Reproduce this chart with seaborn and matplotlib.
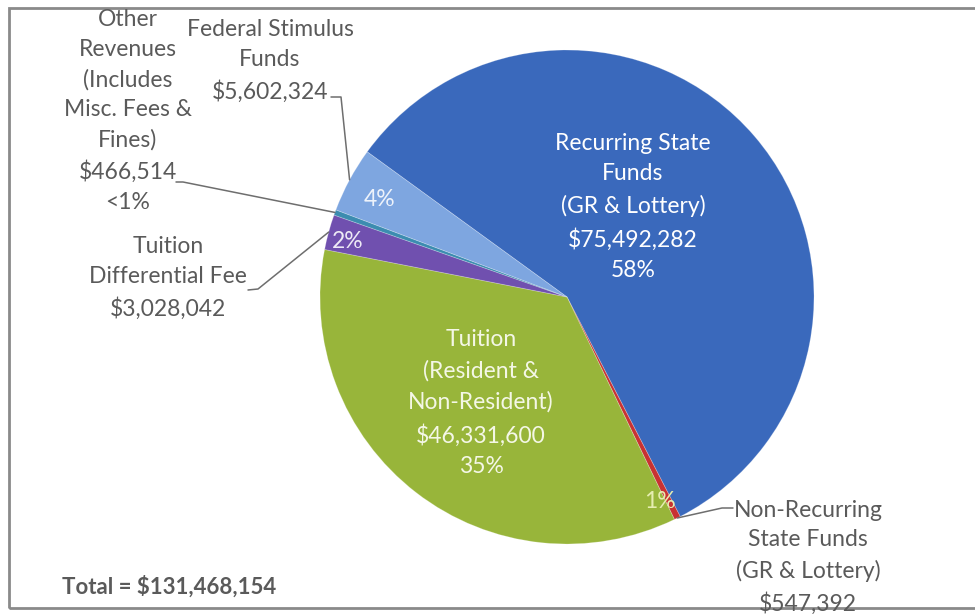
import numpy as np
import seaborn as sns
import matplotlib.pyplot as plt
from matplotlib.patches import Rectangle

# Revenue sources, in the order they are drawn (clockwise)
sources = ['Recurring State Funds (GR & Lottery)',
           'Non-Recurring State Funds (GR & Lottery)',
           'Tuition (Resident & Non-Resident)',
           'Tuition Differential Fee',
           'Other Revenues (Includes Misc. Fees & Fines)',
           'Federal Stimulus Funds']
amounts = [75492282, 547392, 46331600, 3028042, 466514, 5602324]
pct_labels = ['58%', '1%', '35%', '2%', '<1%', '4%']

# label text for each slice
inner_text = {
    0: 'Recurring State\nFunds\n(GR & Lottery)\n$75,492,282\n58%',
    2: 'Tuition\n(Resident &\nNon-Resident)\n$46,331,600\n35%',
}
outer_text = {
    1: 'Non-Recurring\nState Funds\n(GR & Lottery)\n$547,392',
    3: 'Tuition\nDifferential Fee\n$3,028,042',
    4: 'Other\nRevenues\n(Includes\nMisc. Fees &\nFines)\n$466,514\n<1%',
    5: 'Federal Stimulus\nFunds\n$5,602,324',
}
total_text = 'Total = $131,468,154'

slice_colors = ['#3A69BC', '#C83232', '#98B53A', '#7050AF', '#3C8CB0', '#7EA6E0']

sns.set_theme(style="white")
plt.rcParams['font.family'] = ['Lato', 'DejaVu Sans']

W, H = 975, 614
fig = plt.figure(figsize=(W / 100, H / 100), dpi=100)
ax = fig.add_axes([0, 0, 1, 1])
ax.set_xlim(0, W)
ax.set_ylim(0, H)
ax.set_aspect('equal')
ax.axis('off')

def P(x, y):
    # pixel position (top-left origin) -> data coords
    return x, H - y

cx, cy = P(567, 297)
R = 247
wedges, _ = ax.pie(amounts, colors=slice_colors, startangle=144, counterclock=False,
                   center=(cx, cy), radius=R,
                   wedgeprops=dict(linewidth=0.6, edgecolor=(1, 1, 1, 0.25)))
ax.set_xlim(0, W)
ax.set_ylim(0, H)

gray = '#5A5A5A'
fs = 16.5

# text inside the big slices
ax.text(*P(633, 207), inner_text[0], color='white', fontsize=fs, ha='center', va='center',
        linespacing=1.58)
ax.text(*P(481, 403), inner_text[2], color='#F4F7E6', fontsize=fs, ha='center', va='center',
        linespacing=1.58)
ax.text(*P(380, 199), pct_labels[5], color='#EEF3FB', fontsize=fs, ha='center', va='center')
ax.text(*P(348, 241), pct_labels[3], color='#EEEAF6', fontsize=fs, ha='center', va='center')
ax.text(*P(660, 502), pct_labels[1], color='#E6EDB0', fontsize=fs, ha='center', va='center')

# outside labels
label_pos = {1: P(808, 557), 3: P(168, 278), 4: P(128, 111), 5: P(270, 61)}
for i, (lx, ly) in label_pos.items():
    ax.text(lx, ly, outer_text[i], color=gray, fontsize=fs, ha='center', va='center',
            linespacing=1.52)

# leader lines: (start of line near text, elbow), ending on the slice edge
leaders = {
    5: [P(331, 97), P(341, 97)],
    4: [P(176, 182), P(183, 182)],
    3: [P(248, 290), P(258, 289)],
    1: [P(733, 508), P(722, 508)],
}
for i, pts in leaders.items():
    w = wedges[i]
    mid = np.deg2rad((w.theta1 + w.theta2) / 2)
    ex, ey = cx + R * np.cos(mid), cy + R * np.sin(mid)
    xs = [p[0] for p in pts] + [ex]
    ys = [p[1] for p in pts] + [ey]
    ax.plot(xs, ys, color='#6E6E6E', lw=1.1)

ax.text(*P(62, 587), total_text, color=gray, fontsize=16, fontweight='bold',
        ha='left', va='center')

# chart frame
ax.add_patch(Rectangle(P(9, 608), 990, 600, fill=False, edgecolor='#8A8A8A', lw=2,
                       clip_on=False))

fig.savefig('out.png', dpi=100)
